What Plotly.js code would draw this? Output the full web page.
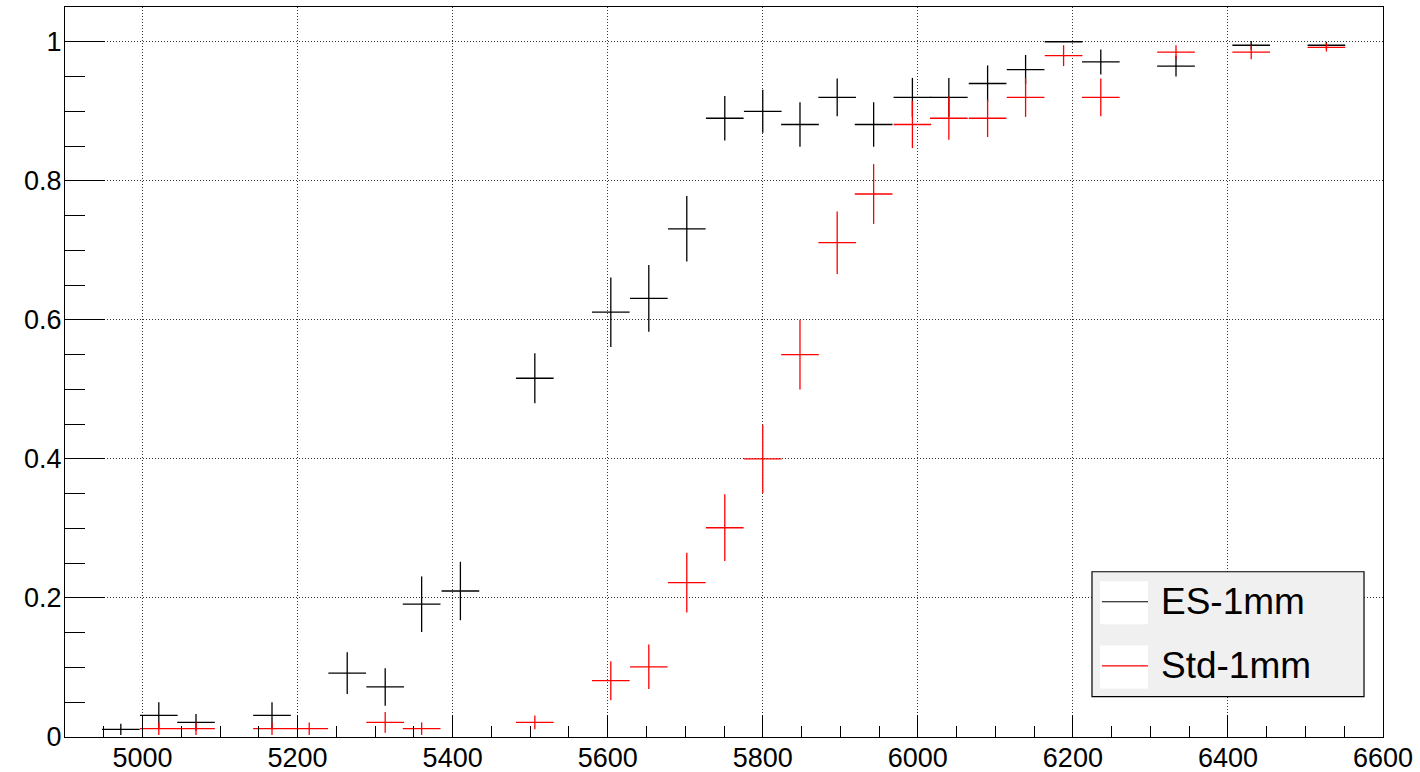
<!DOCTYPE html>
<html>
<head>
<meta charset="utf-8">
<script src="https://cdn.plot.ly/plotly-3.0.1.min.js"></script>
<style>
  html, body { margin: 0; padding: 0; background: #fff; }
  #chart { width: 1420px; height: 772px; }
</style>
</head>
<body>
<div id="chart"></div>
<script>
// ES-1mm (black)
const esX   = [4972, 5021, 5069, 5167, 5264, 5313, 5360, 5410, 5506, 5604, 5653, 5702, 5751, 5800, 5848, 5896, 5943, 5993, 6040, 6090, 6139, 6188, 6236, 6333, 6430, 6527];
const esY   = [0.011, 0.031, 0.021, 0.031, 0.092, 0.072, 0.191, 0.21, 0.516, 0.611, 0.631, 0.731, 0.89, 0.90, 0.881, 0.92, 0.881, 0.92, 0.92, 0.94, 0.96, 1.0, 0.971, 0.965, 0.995, 0.995];
const esErr = [0.008, 0.019, 0.012, 0.019, 0.030, 0.027, 0.040, 0.042, 0.036, 0.050, 0.048, 0.047, 0.032, 0.031, 0.032, 0.027, 0.032, 0.028, 0.028, 0.026, 0.021, 0.0, 0.018, 0.015, 0.006, 0.005];

// Std-1mm (red)
const stdX   = [5021, 5069, 5167, 5215, 5313, 5360, 5506, 5604, 5653, 5702, 5751, 5800, 5848, 5896, 5943, 5993, 6040, 6090, 6139, 6188, 6236, 6333, 6430, 6527];
const stdY   = [0.012, 0.012, 0.012, 0.012, 0.021, 0.012, 0.021, 0.081, 0.101, 0.222, 0.301, 0.40, 0.55, 0.711, 0.781, 0.881, 0.89, 0.89, 0.92, 0.98, 0.92, 0.985, 0.985, 0.992];
const stdErr = [0.009, 0.009, 0.009, 0.009, 0.015, 0.009, 0.010, 0.028, 0.032, 0.043, 0.048, 0.049, 0.050, 0.045, 0.043, 0.034, 0.031, 0.027, 0.028, 0.015, 0.027, 0.010, 0.010, 0.006];

const binHalfWidth = 24.3;

const xTickVals = [5000, 5200, 5400, 5600, 5800, 6000, 6200, 6400, 6600];
const yTickVals = [0, 0.2, 0.4, 0.6, 0.8, 1];
const yTickText = ["0", "0.2", "0.4", "0.6", "0.8", "1"];
const seriesNames = ["ES-1mm", "Std-1mm"];
const seriesColors = ["#000000", "#ff0000"];

function errTrace(x, y, err, color, name) {
  return {
    type: "scatter",
    mode: "markers",
    x: x, y: y, name: name,
    showlegend: false,
    marker: { size: 1, color: color },
    error_x: { type: "constant", value: binHalfWidth, width: 0, thickness: 1.3, color: color },
    error_y: { type: "data", array: err, symmetric: true, width: 0, thickness: 1.3, color: color },
    hoverinfo: "x+y"
  };
}

const data = [
  errTrace(esX, esY, esErr, seriesColors[0], seriesNames[0]),
  errTrace(stdX, stdY, stdErr, seriesColors[1], seriesNames[1])
];

const font = "Liberation Sans, Arial, Helvetica, sans-serif";

// manual ROOT-style legend box
const lx0 = 0.7792, lx1 = 0.9856, ly0 = 0.0552, ly1 = 0.2264;
const rowY = [0.1853, 0.0973];
const shapes = [
  { type: "rect", xref: "paper", yref: "paper", x0: lx0, x1: lx1, y0: ly0, y1: ly1,
    fillcolor: "#f0f0f0", line: { color: "#000", width: 1.2 }, layer: "above" }
];
const annotations = [];
rowY.forEach((yy, i) => {
  shapes.push({ type: "rect", xref: "paper", yref: "paper", x0: 0.7853, x1: 0.8217, y0: yy - 0.031, y1: yy + 0.028,
    fillcolor: "#ffffff", line: { width: 0 }, layer: "above" });
  shapes.push({ type: "line", xref: "paper", yref: "paper", x0: 0.7868, x1: 0.8217, y0: yy, y1: yy,
    line: { color: seriesColors[i], width: 1.2 }, layer: "above" });
  annotations.push({ xref: "paper", yref: "paper", x: 0.8300, y: yy, xanchor: "left", yanchor: "middle",
    text: seriesNames[i], showarrow: false, font: { family: font, size: 37, color: "#000" } });
});

const layout = {
  width: 1420, height: 772,
  margin: { l: 65, r: 37, t: 7, b: 35, pad: 0 },
  paper_bgcolor: "#ffffff",
  plot_bgcolor: "#ffffff",
  showlegend: false,
  font: { family: font, size: 27, color: "#000" },
  xaxis: {
    range: [4900, 6600],
    tickvals: xTickVals,
    ticktext: xTickVals.map(String),
    ticks: "inside", ticklen: 22, tickwidth: 1, tickcolor: "#000",
    ticklabelstandoff: -3,
    minor: { dtick: 50, tick0: 4900, ticks: "inside", ticklen: 11, tickwidth: 1, tickcolor: "#000", showgrid: false },
    showgrid: true, gridcolor: "#333", griddash: "1px,2px", gridwidth: 1,
    showline: true, linecolor: "#000", linewidth: 1, mirror: true,
    zeroline: false,
    tickfont: { family: font, size: 27, color: "#000" }
  },
  yaxis: {
    range: [0, 1.05],
    tickvals: yTickVals,
    ticktext: yTickText,
    ticks: "inside", ticklen: 40, tickwidth: 1, tickcolor: "#000",
    ticklabelstandoff: -3,
    minor: { dtick: 0.05, tick0: 0, ticks: "inside", ticklen: 20, tickwidth: 1, tickcolor: "#000", showgrid: false },
    showgrid: true, gridcolor: "#333", griddash: "1px,2px", gridwidth: 1,
    showline: true, linecolor: "#000", linewidth: 1, mirror: true,
    zeroline: false,
    tickfont: { family: font, size: 27, color: "#000" }
  },
  shapes: shapes,
  annotations: annotations
};

Plotly.newPlot("chart", data, layout, { displayModeBar: false, staticPlot: true });
</script>
</body>
</html>
